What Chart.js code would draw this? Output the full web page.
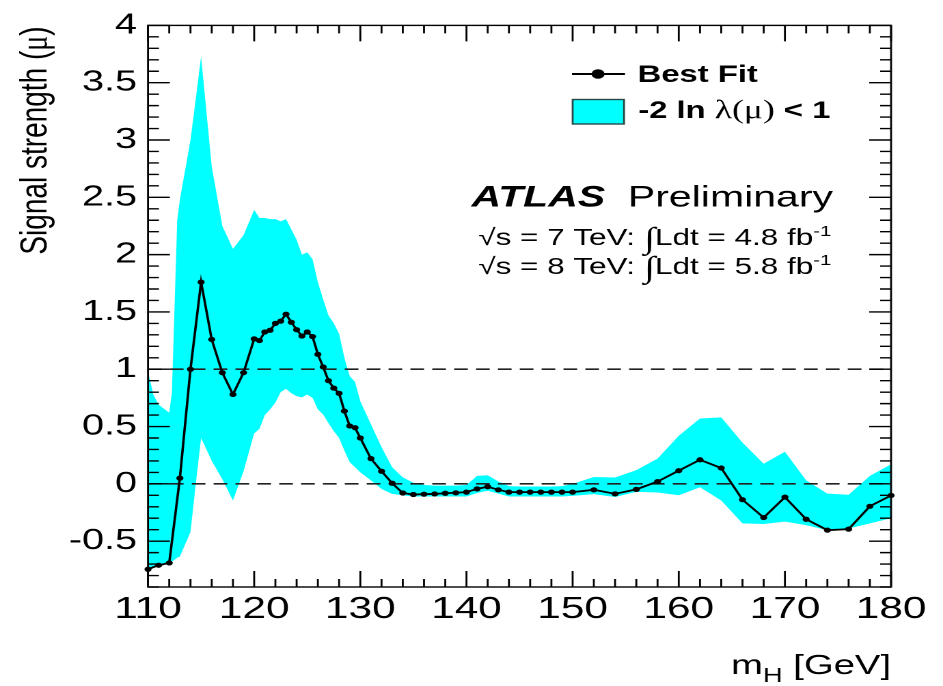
<!DOCTYPE html>
<html>
<head>
<meta charset="utf-8">
<script src="https://cdn.jsdelivr.net/npm/chart.js@4.4.1/dist/chart.umd.min.js"></script>
<style>
  html, body { margin: 0; padding: 0; background: #fff; }
</style>
</head>
<body>
<!-- the original plot is stretched sideways, so the canvas is drawn narrow and widened by CSS -->
<canvas id="muChart" width="690" height="686" style="width:943px;height:686px;display:block"></canvas>
<script>
// --- Best fit signal strength ---
const fitMass = [110, 111, 112, 113, 114, 115, 116, 117, 118, 119,
  120, 120.5, 121, 121.5, 122, 122.5, 123, 123.5, 124, 124.5,
  125, 125.5, 126, 126.5, 127, 127.5, 128, 128.5, 129, 129.5,
  130, 131, 132, 133, 134, 135, 136, 137, 138, 139,
  140, 141, 142, 143, 144, 145, 146, 147, 148, 149,
  150, 152, 154, 156, 158, 160, 162, 164, 166, 168,
  170, 172, 174, 176, 178, 180];
const fitMu = [-0.745, -0.71, -0.69, 0.05, 1.0, 1.76, 1.26, 0.97, 0.78, 0.97,
  1.265, 1.25, 1.325, 1.34, 1.40, 1.42, 1.48, 1.41, 1.345, 1.29,
  1.325, 1.285, 1.13, 1.02, 0.90, 0.835, 0.79, 0.635, 0.505, 0.49,
  0.40, 0.22, 0.11, 0.005, -0.08, -0.093, -0.09, -0.088, -0.082, -0.078,
  -0.072, -0.044, -0.025, -0.052, -0.072, -0.072, -0.072, -0.072, -0.072, -0.072,
  -0.072, -0.052, -0.087, -0.048, 0.02, 0.115, 0.21, 0.138, -0.138, -0.294,
  -0.116, -0.309, -0.404, -0.395, -0.196, -0.101];

// --- -2 ln lambda(mu) < 1 band ---
const bandMass = [110, 110.5, 111, 112, 112.25, 112.75, 113, 114, 114.5, 115,
  116, 117, 118, 119, 120, 120.5, 121, 121.5, 122, 122.5,
  123, 123.5, 124, 124.5, 125, 125.5, 126, 126.5, 127, 127.5,
  128, 128.5, 129, 129.5, 130, 131, 132, 133, 134, 135,
  136, 137, 138, 139, 140, 141, 142, 143, 144, 145,
  146, 147, 148, 149, 150, 152, 154, 156, 158, 160,
  162, 164, 166, 168, 170, 172, 174, 176, 178, 180];
const bandHigh = [0.98, 0.78, 0.69, 0.62, 0.80, 2.30, 2.48, 3.00, 3.36, 3.73,
  2.77, 2.25, 2.05, 2.17, 2.39, 2.32, 2.32, 2.31, 2.31, 2.29,
  2.31, 2.22, 2.13, 2.00, 2.02, 1.96, 1.76, 1.61, 1.47, 1.40,
  1.31, 1.10, 0.94, 0.89, 0.72, 0.52, 0.32, 0.145, 0.057, 0.01,
  -0.01, -0.015, -0.015, -0.015, -0.01, 0.07, 0.075, 0.02, -0.02, -0.023,
  -0.023, -0.023, -0.023, -0.02, 0.0, 0.06, 0.055, 0.12, 0.22, 0.42,
  0.57, 0.58, 0.36, 0.175, 0.28, 0.03, -0.085, -0.095, 0.07, 0.17];
const bandLow = [-0.75, -0.73, -0.72, -0.69, -0.68, -0.645, -0.635, -0.42, 0.0, 0.40,
  0.20, 0.04, -0.145, 0.11, 0.44, 0.48, 0.60, 0.65, 0.71, 0.80,
  0.83, 0.79, 0.765, 0.755, 0.78, 0.75, 0.65, 0.605, 0.53, 0.46,
  0.40, 0.29, 0.19, 0.145, 0.10, 0.03, -0.045, -0.087, -0.10, -0.11,
  -0.11, -0.11, -0.11, -0.11, -0.11, -0.08, -0.06, -0.085, -0.11, -0.11,
  -0.11, -0.11, -0.11, -0.11, -0.105, -0.09, -0.115, -0.07, -0.075, -0.10,
  -0.03, -0.145, -0.345, -0.35, -0.33, -0.36, -0.405, -0.39, -0.345, -0.30];

// --- axes ---
const xTicks = [110, 120, 130, 140, 150, 160, 170, 180];
const yTicks = [-0.5, 0, 0.5, 1, 1.5, 2, 2.5, 3, 3.5, 4];
const refLines = [1, 0];

const CYAN = "#00ffff";
const SANS = "'Liberation Sans', Arial, sans-serif";
const SERIF = "'Liberation Serif', 'Times New Roman', serif";

// draw a row of text pieces with their own fonts; align 'left' or 'right'
function drawRuns(ctx, runs, x, y, align) {
  let total = 0;
  runs.forEach(r => { ctx.font = r.font; total += ctx.measureText(r.t).width; });
  let cx = align === "right" ? x - total : x;
  runs.forEach(r => {
    ctx.font = r.font;
    ctx.fillText(r.t, cx, y + (r.dy || 0));
    cx += ctx.measureText(r.t).width;
  });
}

// --- frame, inside ticks and the texts ---
const atlasDecor = {
  id: "atlasDecor",
  afterDatasetsDraw(chart) {
    const { ctx, chartArea: a, scales: { x, y } } = chart;
    ctx.save();
    ctx.strokeStyle = "#000";
    ctx.lineWidth = 1.4;
    ctx.strokeRect(a.left, a.top, a.right - a.left, a.bottom - a.top);

    ctx.beginPath();
    for (let m = 110; m <= 180; m += 2) {
      const px = x.getPixelForValue(m);
      const len = m % 10 === 0 ? 16 : 8;
      ctx.moveTo(px, a.bottom); ctx.lineTo(px, a.bottom - len);
      ctx.moveTo(px, a.top); ctx.lineTo(px, a.top + len);
    }
    for (let i = -9; i <= 40; i++) {
      const py = y.getPixelForValue(i / 10);
      const len = i % 5 === 0 ? 16 : 8;
      ctx.moveTo(a.left, py); ctx.lineTo(a.left + len, py);
      ctx.moveTo(a.right, py); ctx.lineTo(a.right - len, py);
    }
    ctx.stroke();

    ctx.fillStyle = "#000";
    ctx.textBaseline = "alphabetic";
    ctx.textAlign = "left";

    // legend
    ctx.lineWidth = 2;
    ctx.beginPath();
    ctx.moveTo(418.5, 74); ctx.lineTo(457.3, 74);
    ctx.stroke();
    ctx.beginPath();
    ctx.arc(437.6, 74, 4.8, 0, Math.PI * 2);
    ctx.fill();
    drawRuns(ctx, [{ t: "Best Fit", font: "bold 24px " + SANS }], 466.5, 82, "left");

    ctx.fillStyle = CYAN;
    ctx.fillRect(419, 99.5, 37.6, 24.5);
    ctx.strokeStyle = "#2a4848";
    ctx.lineWidth = 1.4;
    ctx.strokeRect(419, 99.5, 37.6, 24.5);
    ctx.fillStyle = "#000";
    drawRuns(ctx, [
      { t: "-2 ln ", font: "bold 24px " + SANS },
      { t: "\u03bb(\u03bc)", font: "26px " + SERIF },
      { t: " < 1", font: "bold 24px " + SANS }
    ], 467, 118, "left");

    // ATLAS label
    drawRuns(ctx, [
      { t: "ATLAS", font: "italic bold 30px " + SANS },
      { t: "  Preliminary", font: "30px " + SANS }
    ], 345, 206.7, "left");
    drawRuns(ctx, [
      { t: "\u221as = 7 TeV: ", font: "23px " + SANS },
      { t: "\u222b", font: "30px " + SERIF, dy: 3 },
      { t: "Ldt = 4.8 fb", font: "23px " + SANS },
      { t: "-1", font: "15px " + SANS, dy: -9 }
    ], 350, 245, "left");
    drawRuns(ctx, [
      { t: "\u221as = 8 TeV: ", font: "23px " + SANS },
      { t: "\u222b", font: "30px " + SERIF, dy: 3 },
      { t: "Ldt = 5.8 fb", font: "23px " + SANS },
      { t: "-1", font: "15px " + SANS, dy: -9 }
    ], 350, 274, "left");

    // x title
    drawRuns(ctx, [
      { t: "m", font: "28px " + SANS },
      { t: "H", font: "20px " + SANS, dy: 8 },
      { t: " [GeV]", font: "28px " + SANS }
    ], a.right, 674, "right");

    // y title, pushed to the top
    ctx.translate(26.5, a.top + 1);
    ctx.rotate(-Math.PI / 2);
    ctx.textBaseline = "middle";
    drawRuns(ctx, [
      { t: "Signal strength (", font: "28px " + SANS },
      { t: "\u03bc", font: "28px " + SERIF },
      { t: ")", font: "28px " + SANS }
    ], 0, 0, "right");
    ctx.restore();
  }
};

const toXY = (xs, ys) => xs.map((m, i) => ({ x: m, y: ys[i] }));

new Chart(document.getElementById("muChart"), {
  type: "line",
  data: {
    datasets: [
      { label: "band high", data: toXY(bandMass, bandHigh), fill: "+1", backgroundColor: CYAN,
        borderWidth: 0, pointRadius: 0, order: 3 },
      { label: "band low", data: toXY(bandMass, bandLow), fill: false,
        borderWidth: 0, pointRadius: 0, order: 3 },
      ...refLines.map(v => ({
        label: "ref " + v, data: [{ x: 110, y: v }, { x: 180, y: v }], fill: false,
        borderColor: "#222", borderWidth: 1.6, borderDash: [10, 6], pointRadius: 0, order: 1
      })),
      { label: "Best Fit", data: toXY(fitMass, fitMu), fill: false, borderColor: "#000",
        borderWidth: 1.8, pointRadius: 2.6, pointBackgroundColor: "#000", pointBorderWidth: 0,
        tension: 0, clip: false, order: 0 }
    ]
  },
  options: {
    responsive: false,
    devicePixelRatio: 2,
    animation: false,
    layout: { padding: { left: 0, right: 38, top: 19, bottom: 0 } },
    plugins: { legend: { display: false }, tooltip: { enabled: false } },
    scales: {
      x: {
        type: "linear", min: 110, max: 180,
        grid: { display: false, drawTicks: false }, border: { display: false },
        afterBuildTicks: s => { s.ticks = xTicks.map(v => ({ value: v })); },
        afterFit: s => { s.height = 99; },
        ticks: { padding: 4, color: "#000", font: { family: SANS, size: 31 }, maxRotation: 0,
          callback: v => String(v) }
      },
      y: {
        type: "linear", min: -0.9, max: 4,
        grid: { display: false, drawTicks: false }, border: { display: false },
        afterBuildTicks: s => { s.ticks = yTicks.map(v => ({ value: v })); },
        afterFit: s => { s.width = 108.3; },
        ticks: { padding: 8, color: "#000", font: { family: SANS, size: 29 },
          callback: v => String(v) }
      }
    }
  },
  plugins: [atlasDecor]
});
</script>
</body>
</html>
